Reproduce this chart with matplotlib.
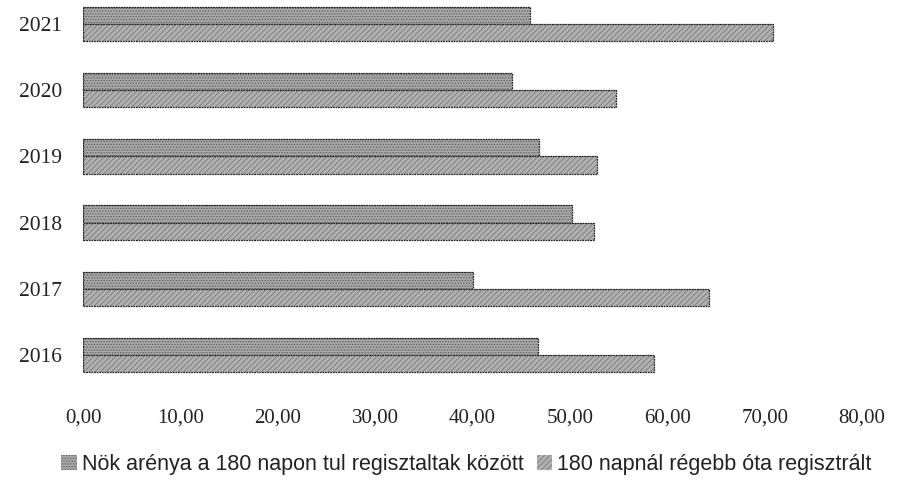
import matplotlib

matplotlib.use("Agg")
import matplotlib.pyplot as plt
import numpy as np

years = ["2016", "2017", "2018", "2019", "2020", "2021"]
women_share = [46.7, 40.1, 50.2, 46.8, 44.1, 45.9]
long_registered = [58.6, 64.3, 52.5, 52.8, 54.7, 70.9]
series_labels = [
    "Nök arénya a 180 napon tul regisztaltak között",
    "180 napnál régebb óta regisztrált",
]
x_ticks = [0, 10, 20, 30, 40, 50, 60, 70, 80]

plt.rcParams["hatch.linewidth"] = 0.6

fig = plt.figure(figsize=(8.97, 4.87), dpi=100)
ax = fig.add_axes((83 / 897, 0.203, (862 - 83) / 897, 0.8157))

y = np.arange(len(years))
bar_h = 0.26

styles = [
    dict(facecolor="#a8a8a8", hatch="......", fill_edge="#5e5e5e"),
    dict(facecolor="#b0b0b0", hatch="//////", fill_edge="#7a7a7a"),
]
offsets = [bar_h / 2, -bar_h / 2]
handles = []
for values, off, st in zip([women_share, long_registered], offsets, styles):
    bars = ax.barh(
        y + off,
        values,
        height=bar_h,
        color=st["facecolor"],
        hatch=st["hatch"],
        edgecolor=st["fill_edge"],
        linewidth=0,
    )
    ax.barh(
        y + off,
        values,
        height=bar_h,
        fill=False,
        edgecolor="#222222",
        linewidth=0.9,
        linestyle=(0, (1.5, 0.6)),
    )
    handles.append(bars)

ax.set_xlim(0, 80)
ax.set_ylim(-0.5, len(years) - 0.5)
ax.set_xticks(x_ticks)
ax.set_xticklabels(
    [f"{t:.2f}".replace(".", ",") for t in x_ticks],
    family="Liberation Serif",
    fontsize=15,
    color="#222222",
)
ax.set_yticks(y)
ax.set_yticklabels(years, family="Liberation Serif", fontsize=15.5, color="#222222")
ax.tick_params(axis="both", length=0)
ax.tick_params(axis="x", pad=15)
ax.tick_params(axis="y", pad=15)
for side in ax.spines.values():
    side.set_visible(False)

fig.legend(
    handles,
    series_labels,
    loc="lower center",
    bbox_to_anchor=(0.52, -0.015),
    ncol=2,
    frameon=False,
    handlelength=0.7,
    handleheight=0.7,
    handletextpad=0.25,
    columnspacing=0.6,
    prop={"family": ["Liberation Sans"], "size": 15.5},
    labelcolor="#222222",
)

fig.savefig("out.png", dpi=100)
